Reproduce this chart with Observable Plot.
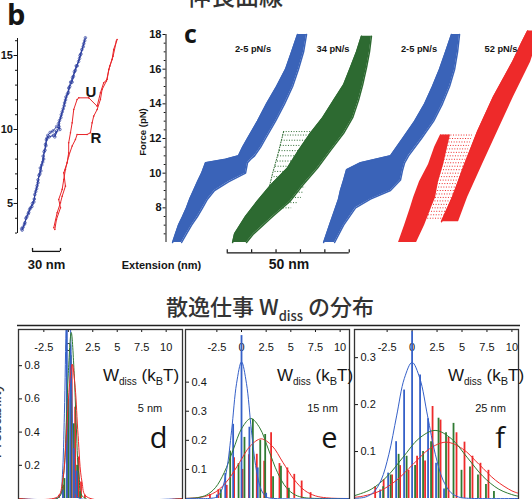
<!DOCTYPE html>
<html>
<head>
<meta charset="utf-8">
<script src="https://cdn.jsdelivr.net/npm/d3@7"></script>
<script src="https://cdn.jsdelivr.net/npm/@observablehq/plot@0.6"></script>
<style>
  body { margin: 0; background: #fff; }
  #fig { position: relative; width: 532px; height: 499px; overflow: hidden; background: #fff; }
  #fig svg { position: absolute; overflow: visible; }
</style>
</head>
<body>
<div id="fig"></div>
<script>
// ---------------- panel b: a single stretch / relax cycle (extension nm, force pN) ----------------
const bBlueStretchExt = [5.0,7.5,9.0,11.5,13.0,15.5,17.5,18.5,20.5,22.0,23.0,25.0,26.0,28.0,28.5,30.5,31.0,32.5,35.0,38.0,42.0,45.5,44.0,46.5,48.0,50.0,51.5,53.5,55.0,57.0,59.0,61.0,63.0,65.5,67.0,69.0,71.0,72.8];
const bBlueStretchF   = [3.2,3.6,4.0,4.3,4.6,4.8,5.1,5.6,6.0,6.4,6.9,7.2,7.6,8.0,8.5,8.9,9.3,9.6,9.8,9.9,10.2,10.0,10.4,10.8,11.2,11.6,12.0,12.4,12.8,13.2,13.5,13.9,14.3,14.6,15.0,15.4,15.8,16.2];
const bBlueRelaxExt = [72.0,70.5,68.0,66.5,64.0,62.0,60.0,58.5,56.0,54.5,52.0,50.5,49.0,47.0,45.0,44.5,40.0,42.0,38.5,34.0,31.5,30.0,29.5,27.5,27.0,24.5,24.0,22.0,21.0,19.5,18.0,16.0,14.0,12.0,10.0,8.0,6.0,4.5];
const bBlueRelaxF   = [16.0,15.6,15.1,14.8,14.3,14.0,13.6,13.2,12.9,12.5,12.2,11.8,11.4,11.0,10.6,10.2,9.5,9.9,9.6,9.5,9.4,9.0,8.6,8.2,7.8,7.4,7.0,6.6,6.2,5.8,5.3,5.0,4.7,4.4,4.1,3.7,3.4,3.3];
const bRedStretchExt = [38.9,42.5,46.1,47.9,51.4,49.6,53.2,54.9,54.9,56.8,58.6,60.3,63.9,65.7,76.4,85.4,88.9,92.4,96.1,97.8,101.4,103.1,106.8];
const bRedStretchF   = [3.36,4.37,5.05,5.49,6.17,7.07,7.75,8.43,9.10,9.78,10.45,11.35,12.03,12.14,12.14,11.57,12.48,13.16,13.38,14.05,14.73,15.41,16.08];
const bRedRelaxExt = [106.0,102.5,98.9,95.3,90.7,88.9,85.4,81.7,80.0,78.2,74.6,63.9,62.1,58.6,54.9,51.4,49.6,47.9,44.2,46.1,41.8,40.0];
const bRedRelaxF   = [15.97,14.95,14.28,13.27,12.70,12.03,11.35,10.9,10.45,9.78,9.66,9.66,9.32,8.88,8.20,7.30,6.62,5.95,5.27,4.71,3.92,3.24];
const bForceTicks = [5, 10, 15];
const bForceTickLabels = ["5", "10", "15"];
const bForceMinor = [3,4,6,7,8,9,11,12,13,14,16];
const bScaleBarNm = 30;

// ---------------- panel c: bundles of repeated pulls, outline of each bundle (force pN -> extension nm) ----------------
const cForceTicks = [8, 10, 12, 14, 16, 18];
const cForceTickLabels = ["8", "10", "12", "14", "16", "18"];
const cForceMinor = [6.5,7,7.5,8.5,9,9.5,10.5,11,11.5,12.5,13,13.5,14.5,15,15.5,16.5,17,17.5];
const cScaleBarNm = 50;
const cScaleBarTicks = [0, 10, 20, 30, 40, 50];
const cRateLabels = ["2-5 pN/s", "34 pN/s", "2-5 pN/s", "52 pN/s"];

const slowAF  = [6,6.5,7,7.5,8,8.5,9,9.5,10,10.6,10.8,11,11.5,12,13,14,15,16,17,18];
const slowALo = [3.7,4.9,6.1,7.8,9.4,10.7,12.3,13.9,15.6,17.2,25.4,30.7,32.4,34.4,38.5,42.2,46.3,50.0,52.5,54.9];
const slowAHi = [7.4,9.4,11.5,13.9,16.0,18.0,20.9,26.6,33.6,34.4,35.7,37.3,39.8,41.8,45.9,49.6,52.9,55.3,57.4,58.6];

const fastGF  = [6,6.5,7.5,8.4,9.3,10.3,11.3,12.3,13.2,14.2,15.1,16.1,17,17.9];
const fastGLo = [28.3,29.1,33.6,38.5,43.9,50.8,55.3,60.2,65.2,69.7,73.8,76.6,79.1,81.1];
const fastGHi = [34.0,36.9,44.7,52.0,57.0,63.1,68.4,73.8,77.5,79.9,81.6,83.2,84.4,85.2];
const fastGHopF  = [8.0,8.3,8.6,8.9,9.2,9.5,9.8,10.1,10.4,10.7,11.0,11.3,11.6,11.9,12.2,12.4];
const fastGHopLo = [40.6,42.6,43.4,43.9,44.3,45.1,45.3,45.7,45.9,46.7,46.9,47.5,48.0,48.4,48.8,49.2];
const fastGHopHi = [52.5,55.3,56.5,57.4,58.2,58.6,59.0,59.8,60.2,60.7,61.1,61.5,62.3,62.7,63.1,63.5];
const fastGEdgeF  = [8.0,9.0,10.0,11.0,12.4];
const fastGEdgeX  = [40.6,43.0,44.7,46.7,49.2];

const slowBF  = [6,7,8,8.5,9,9.6,10.2,10.6,11,12,13,14,15,16,17,18];
const slowBLo = [65.6,68.0,70.5,71.7,72.5,73.8,75.0,80.7,93.0,98.0,102.9,107.0,110.2,113.1,115.6,118.0];
const slowBHi = [70.1,73.8,78.7,84.8,93.0,97.1,98.0,98.8,100.4,105.7,110.7,114.3,117.2,119.3,120.5,121.3];

const fastRFoldF  = [6,7,8,8.6,9.5,10.5,11.5,12.2];
const fastRFoldLo = [96.3,98.8,101.2,102.5,104.9,108.6,111.1,113.5];
const fastRFoldHi = [103.7,107.0,109.8,111.5,112.7,114.8,116.4,117.6];
const fastRUnfF  = [7.2,8.6,10.5,12.4,14.4,16.4,17.5,18.2];
const fastRUnfLo = [113.9,118.4,123.4,128.7,135.2,143.0,146.7,149.2];
const fastRUnfHi = [120.9,124.6,130.7,136.9,143.4,150.4,152.9,155.3];
const fastRHopF  = [7.4,7.6,7.8,8.0,8.2,8.4,8.6,8.8,9.0,9.2,9.4,9.6,9.8,10.0,10.2,10.4,10.6,10.8,11.0,11.2,11.4,11.6,11.8,12.0,12.2];
const fastRHopLo = [104.0,104.3,104.5,104.9,105.3,105.9,106.1,106.6,107.0,107.4,107.8,108.2,108.6,109.0,109.4,109.8,110.2,110.7,111.1,111.5,111.9,112.3,112.7,113.1,113.5];
const fastRHopHi = [116.8,117.2,117.6,118.0,118.4,119.5,120.1,120.5,120.9,121.3,121.7,122.1,122.5,123.0,123.4,123.8,124.2,124.6,125.0,125.0,125.0,125.4,125.8,126.2,126.6];

// ---------------- panels d-f: dissipated work histograms (kBT) and fitted curves ----------------
const wTicks = [-2.5, 0, 2.5, 5, 7.5, 10];
const wTickLabels = ["-2.5", "0", "2.5", "5", "7.5", "10"];
const dProbTicks = [0.2, 0.4, 0.6, 0.8];
const dProbLabels = ["0.2", "0.4", "0.6", "0.8"];
const eProbTicks = [0.1, 0.2, 0.3, 0.4];
const eProbLabels = ["0.1", "0.2", "0.3", "0.4"];
const fProbTicks = [0.1, 0.2, 0.3];
const fProbLabels = ["0.1", "0.2", "0.3"];
const stepLabels = ["5 nm", "15 nm", "25 nm"];

const dBlueBarW = [-0.55,-0.15,0.2,0.55,0.85];
const dBlueBarP = [0.05,1.2,0.9,0.3,0.165];
const dGreenBarW = [-0.4,0,0.25,0.55,0.9,1.2];
const dGreenBarP = [0.12,0.6,0.86,0.45,0.2,0.04];
const dRedBarW = [-0.95,-0.5,-0.1,0.35,0.7,1.05,1.3,1.7];
const dRedBarP = [0.02,0.08,0.45,0.8,0.55,0.25,0.1,0.02];
const dBlueFitW = [-5.1,-1.2,-0.8,-0.6,-0.4,-0.2,0,0.2,0.4,0.6,0.8,1.2,11.7];
const dBlueFitP = [0,0,0.024,0.143,0.51,1.1,1.42,1.1,0.51,0.143,0.024,0,0];
const dGreenFitW = [-5.1,-1.0,-0.5,-0.2,0,0.3,0.6,0.8,1.1,1.6,11.7];
const dGreenFitP = [0,0.005,0.135,0.46,0.755,1.0,0.755,0.46,0.135,0.005,0];
const dRedFitW = [-5.1,-1.1,-0.6,-0.2,0.1,0.4,0.7,1.0,1.4,1.9,11.7];
const dRedFitP = [0,0.01,0.1,0.38,0.67,0.81,0.67,0.38,0.1,0.01,0];

const eBlueBarW = [-2.5,-1.65,-0.85,0,0.8,1.65,2.5];
const eBlueBarP = [0.012,0.086,0.255,0.56,0.245,0.105,0.018];
const eGreenBarW = [-2.1,-1.15,-0.3,0.3,1.15,1.9,2.4,3.2,4.0,4.8];
const eGreenBarP = [0.03,0.163,0.12,0.21,0.272,0.2,0.22,0.075,0.111,0.035];
const eRedBarW = [-3.2,-2.35,-1.5,-0.75,0.1,0.75,1.55,2.3,3.0,3.85,4.65,5.35,6.1,7.0];
const eRedBarP = [0.014,0.03,0.045,0.14,0.1,0.15,0.152,0.128,0.226,0.12,0.105,0.083,0.06,0.02];
const eBlueFitW = [-5.7,-3,-2.5,-2,-1.5,-1,-0.5,0,0.5,1,1.5,2,2.5,3,11];
const eBlueFitP = [0,0.001,0.006,0.03,0.099,0.235,0.396,0.47,0.396,0.235,0.099,0.03,0.006,0.001,0];
const eGreenFitW = [-5.7,-5.35,-4.45,-3.55,-2.65,-1.75,-0.85,0.05,0.95,1.85,2.75,3.65,4.55,5.45,6.35,7.25,11];
const eGreenFitP = [0,0.0006,0.003,0.0121,0.0371,0.0894,0.1668,0.2427,0.275,0.2427,0.1668,0.0894,0.0371,0.0121,0.003,0.0006,0];
const eRedFitW = [-5.7,-4.6,-3.5,-2.4,-1.3,-0.2,0.9,2.0,3.1,4.2,5.3,6.4,7.5,8.6,9.7,11];
const eRedFitP = [0.0004,0.0023,0.009,0.0277,0.0666,0.124,0.181,0.205,0.181,0.124,0.0666,0.0277,0.009,0.0023,0.0004,0];

const fBlueBarW = [-3.2,-2.4,-1.6,-0.8,0,0.8,1.6,2.4,3.2];
const fBlueBarP = [0.018,0.054,0.121,0.231,0.355,0.263,0.17,0.075,0.02];
const fGreenBarW = [-2.9,-2.15,-1.35,-0.55,0.3,1.1,1.9,2.65,3.4,4.15,4.95,5.8,6.6,7.4,8.2];
const fGreenBarP = [0.025,0.05,0.094,0.09,0.07,0.1,0.121,0.171,0.14,0.16,0.06,0.067,0.05,0.03,0.015];
const fRedBarW = [-3.7,-2.85,-2.0,-1.2,-0.35,0.5,1.3,2.05,2.85,3.65,4.45,5.25,6.05,6.85,7.65];
const fRedBarP = [0.025,0.04,0.05,0.07,0.06,0.09,0.08,0.196,0.167,0.13,0.14,0.12,0.09,0.075,0.06];
const fBlueFitW = [-5.77,-5.43,-4.65,-3.875,-3.1,-2.325,-1.55,-0.775,0,0.775,1.55,2.325,3.1,3.875,4.65,5.43,10.66];
const fBlueFitP = [0,0.0006,0.0032,0.0128,0.0392,0.0943,0.1759,0.2559,0.29,0.2559,0.1759,0.0943,0.0392,0.0128,0.0032,0.0006,0];
const fGreenFitW = [-5.77,-4.1,-2.5,-0.9,0.7,2.3,3.9,5.5,7.1,8.7,10.3,10.66];
const fGreenFitP = [0.006,0.0196,0.047,0.088,0.128,0.145,0.128,0.088,0.047,0.0196,0.0064,0.005];
const fRedFitW = [-5.77,-4.85,-3.2,-1.55,0.1,1.75,3.4,5.05,6.7,8.35,10.0,10.66];
const fRedFitP = [0.0025,0.0053,0.0162,0.039,0.0728,0.1059,0.12,0.1059,0.0728,0.039,0.0162,0.011];

// ---------------- colours and shared style ----------------
const bBlue = "#2b3d9e", bRed = "#e8262a";
const cBlue = "#3a63b8", cGreen = "#2d6a31", cRed = "#ee2a2a";
const hBlue = "#3560c8", hGreen = "#2f7a32", hRed = "#ee2b2b";
const ink = "#151515";
const baseStyle = { background: "none", overflow: "visible", fontFamily: "'Liberation Sans', Arial, sans-serif", color: ink };

const zipXY = (xs, ys, kx, ky) => xs.map((x, i) => ({ [kx]: x, [ky]: ys[i] }));
const band = (F, lo, hi) => F.map((f, i) => ({ F: f, lo: lo[i], hi: hi[i] }));
const fig = document.getElementById("fig");
function place(svg, left, top) {
  svg.style.left = left + "px";
  svg.style.top = top + "px";
  fig.appendChild(svg);
}

// ---------------- panel b ----------------
const bX0 = 0, bX1 = 115.8;
const bBarStart = 16.1, bBarF = 1.76;
const bPlot = Plot.plot({
  width: 135, height: 280,
  marginLeft: 17, marginRight: 10, marginTop: 38, marginBottom: 47,
  x: { domain: [bX0, bX1], axis: null },
  y: { domain: [2.97, 16.15], axis: null },
  style: baseStyle,
  marks: [
    Plot.ruleX([bX0], { stroke: ink }),
    Plot.axisY({ ticks: bForceMinor, tickSize: 2, fill: "none", stroke: ink }),
    Plot.axisY({ ticks: bForceTicks, tickSize: 3.5, tickPadding: 1, label: null, stroke: ink, fill: ink,
      tickFormat: d => bForceTickLabels[bForceTicks.indexOf(d)], fontWeight: "bold", fontSize: 11 }),
    Plot.line(zipXY(bBlueStretchExt, bBlueStretchF, "ext", "F"), { x: "ext", y: "F", stroke: bBlue, strokeWidth: 1 }),
    Plot.line(zipXY(bBlueRelaxExt, bBlueRelaxF, "ext", "F"), { x: "ext", y: "F", stroke: bBlue, strokeWidth: 1 }),
    Plot.dot(zipXY(bBlueStretchExt, bBlueStretchF, "ext", "F"), { x: "ext", y: "F", r: 1.3, stroke: bBlue, strokeWidth: 0.7 }),
    Plot.dot(zipXY(bBlueRelaxExt, bBlueRelaxF, "ext", "F"), { x: "ext", y: "F", r: 1.3, stroke: bBlue, strokeWidth: 0.7 }),
    Plot.line(zipXY(bRedStretchExt, bRedStretchF, "ext", "F"), { x: "ext", y: "F", stroke: bRed, strokeWidth: 1 }),
    Plot.line(zipXY(bRedRelaxExt, bRedRelaxF, "ext", "F"), { x: "ext", y: "F", stroke: bRed, strokeWidth: 1 }),
    Plot.dot(zipXY(bRedStretchExt, bRedStretchF, "ext", "F"), { x: "ext", y: "F", r: 0.8, fill: bRed }),
    Plot.dot(zipXY(bRedRelaxExt, bRedRelaxF, "ext", "F"), { x: "ext", y: "F", r: 0.8, fill: bRed }),
    // 30 nm scale bar
    Plot.ruleY([bBarF], { x1: bBarStart, x2: bBarStart + bScaleBarNm, stroke: ink, strokeWidth: 1.3 }),
    Plot.ruleX([bBarStart, bBarStart + bScaleBarNm], { y1: bBarF, y2: bBarF + 0.2, stroke: ink, strokeWidth: 1.3 })
  ]
});
place(bPlot, 0, 0);

// ---------------- panel c ----------------
const cX0 = 1.0, cX1 = 151.2;
const cBarStart = 26.1, cBarF = 5.4;
const dotted = { strokeDasharray: "1 1.6", strokeWidth: 1 };
const cPlot = Plot.plot({
  width: 412, height: 280,
  marginLeft: 45.5, marginRight: 0, marginTop: 34, marginBottom: 38,
  x: { domain: [cX0, cX1], axis: null },
  y: { domain: [6, 18], axis: null },
  style: baseStyle,
  marks: [
    Plot.ruleX([cX0], { stroke: ink }),
    Plot.axisY({ ticks: cForceMinor, tickSize: 1.8, fill: "none", stroke: ink }),
    Plot.axisY({ ticks: cForceTicks, tickSize: 3, tickPadding: 1.5, label: null, stroke: ink, fill: ink,
      tickFormat: d => cForceTickLabels[cForceTicks.indexOf(d)], fontWeight: "bold", fontSize: 11 }),
    // slow pulls (first construct)
    Plot.areaX(band(slowAF, slowALo, slowAHi), { y: "F", x1: "lo", x2: "hi", fill: cBlue }),
    Plot.line(band(slowAF, slowALo, slowAHi), { y: "F", x: "lo", stroke: cBlue, strokeWidth: 1.5 }),
    Plot.line(band(slowAF, slowALo, slowAHi), { y: "F", x: "hi", stroke: cBlue, strokeWidth: 1.5 }),
    // fast pulls, 34 pN/s
    Plot.ruleY(band(fastGHopF, fastGHopLo, fastGHopHi), { y: "F", x1: "lo", x2: "hi", stroke: cGreen, ...dotted }),
    Plot.line(zipXY(fastGEdgeX, fastGEdgeF, "x", "F"), { x: "x", y: "F", stroke: cGreen, ...dotted }),
    Plot.areaX(band(fastGF, fastGLo, fastGHi), { y: "F", x1: "lo", x2: "hi", fill: cGreen }),
    Plot.line(band(fastGF, fastGLo, fastGHi), { y: "F", x: "lo", stroke: cGreen, strokeWidth: 1.5 }),
    Plot.line(band(fastGF, fastGLo, fastGHi), { y: "F", x: "hi", stroke: cGreen, strokeWidth: 1.5 }),
    // slow pulls (second construct)
    Plot.areaX(band(slowBF, slowBLo, slowBHi), { y: "F", x1: "lo", x2: "hi", fill: cBlue }),
    Plot.line(band(slowBF, slowBLo, slowBHi), { y: "F", x: "lo", stroke: cBlue, strokeWidth: 1.5 }),
    Plot.line(band(slowBF, slowBLo, slowBHi), { y: "F", x: "hi", stroke: cBlue, strokeWidth: 1.5 }),
    // fast pulls, 52 pN/s: folded branch, hops, unfolded branch
    Plot.ruleY(band(fastRHopF, fastRHopLo, fastRHopHi), { y: "F", x1: "lo", x2: "hi", stroke: cRed, ...dotted }),
    Plot.areaX(band(fastRFoldF, fastRFoldLo, fastRFoldHi), { y: "F", x1: "lo", x2: "hi", fill: cRed }),
    Plot.areaX(band(fastRUnfF, fastRUnfLo, fastRUnfHi), { y: "F", x1: "lo", x2: "hi", fill: cRed }),
    Plot.line(band(fastRUnfF, fastRUnfLo, fastRUnfHi), { y: "F", x: "lo", stroke: cRed, strokeWidth: 1.5 }),
    // 50 nm scale bar
    Plot.ruleY([cBarF], { x1: cBarStart, x2: cBarStart + cScaleBarNm, stroke: ink, strokeWidth: 1.2 }),
    Plot.ruleX(cScaleBarTicks, { x: d => cBarStart + d, y1: cBarF, y2: cBarF + 0.18, stroke: ink, strokeWidth: 1.2 })
  ]
});
place(cPlot, 120, 0);

// ---------------- panels d, e, f ----------------
function workPanel({ width, xDom, yDom, yTicks, yLabels, bars, fits }) {
  const height = 171;
  const marks = [
    Plot.ruleX(wTicks, { x: d => d, insetBottom: height - 3, stroke: ink }),
    Plot.text(wTicks, { x: d => d, text: (d, i) => wTickLabels[i], frameAnchor: "top", dy: 14, fontSize: 11, fill: ink }),
    Plot.ruleY(yTicks, { y: d => d, insetRight: width - 4, stroke: ink }),
    Plot.text(yTicks, { y: d => d, text: (d, i) => yLabels[i], frameAnchor: "left", dx: 6, textAnchor: "start", fontSize: 11, fill: ink })
  ];
  for (const b of bars)
    marks.push(Plot.ruleX(zipXY(b.w, b.p, "w", "p"), { x: "w", y1: 0, y2: "p", stroke: b.color, strokeWidth: 1.8, clip: true }));
  for (const f of fits)
    marks.push(Plot.line(zipXY(f.w, f.p, "w", "p"), { x: "w", y: "p", stroke: f.color, strokeWidth: 1, curve: "catmull-rom", clip: true }));
  marks.push(Plot.frame({ stroke: "#333", strokeWidth: 1.3 }));
  return Plot.plot({
    width, height, margin: 0,
    x: { domain: xDom, axis: null },
    y: { domain: yDom, axis: null },
    style: baseStyle,
    marks
  });
}

place(workPanel({
  width: 164, xDom: [-5.09, 11.67], yDom: [-0.012, 1.018], yTicks: dProbTicks, yLabels: dProbLabels,
  bars: [
    { w: dRedBarW, p: dRedBarP, color: hRed },
    { w: dGreenBarW, p: dGreenBarP, color: hGreen },
    { w: dBlueBarW, p: dBlueBarP, color: hBlue }
  ],
  fits: [
    { w: dBlueFitW, p: dBlueFitP, color: hBlue },
    { w: dGreenFitW, p: dGreenFitP, color: hGreen },
    { w: dRedFitW, p: dRedFitP, color: hRed }
  ]
}), 18, 329);

place(workPanel({
  width: 164, xDom: [-5.68, 10.95], yDom: [-0.0069, 0.581], yTicks: eProbTicks, yLabels: eProbLabels,
  bars: [
    { w: eRedBarW, p: eRedBarP, color: hRed },
    { w: eGreenBarW, p: eGreenBarP, color: hGreen },
    { w: eBlueBarW, p: eBlueBarP, color: hBlue }
  ],
  fits: [
    { w: eRedFitW, p: eRedFitP, color: hRed },
    { w: eGreenFitW, p: eGreenFitP, color: hGreen },
    { w: eBlueFitW, p: eBlueFitP, color: hBlue }
  ]
}), 185, 329);

place(workPanel({
  width: 164, xDom: [-5.77, 10.66], yDom: [-0.0043, 0.36], yTicks: fProbTicks, yLabels: fProbLabels,
  bars: [
    { w: fRedBarW, p: fRedBarP, color: hRed },
    { w: fGreenBarW, p: fGreenBarP, color: hGreen },
    { w: fBlueBarW, p: fBlueBarP, color: hBlue }
  ],
  fits: [
    { w: fRedFitW, p: fRedFitP, color: hRed },
    { w: fGreenFitW, p: fGreenFitP, color: hGreen },
    { w: fBlueFitW, p: fBlueFitP, color: hBlue }
  ]
}), 354, 329);

// ---------------- titles, panel letters and annotations ----------------
const ov = d3.create("svg").attr("width", 532).attr("height", 499)
  .style("left", "0px").style("top", "0px").style("pointer-events", "none");
const sans = "'Liberation Sans', Arial, sans-serif";
const cjk = "'Noto Sans CJK JP', 'Noto Sans CJK SC', sans-serif";
const letterFont = "'Open Sans', 'Noto Sans', sans-serif";
function label(x, y, str, { size = 11, weight = "normal", family = sans, anchor = "start", fill = ink, rotate = 0 } = {}) {
  return ov.append("text")
    .attr("transform", `translate(${x},${y}) rotate(${rotate})`)
    .attr("font-family", family).attr("font-size", size).attr("font-weight", weight)
    .attr("text-anchor", anchor).attr("fill", fill).text(str);
}

label(235, 5, "伸長曲線", { size: 24, family: cjk, anchor: "middle", fill: "#333", weight: 500 });
label(7, 25, "b", { size: 29, weight: "bold", family: letterFont });
label(184, 43, "c", { size: 25, weight: "bold", family: letterFont });
label(91, 96.5, "U", { size: 15, weight: "bold", anchor: "middle" });
label(96, 142.5, "R", { size: 15, weight: "bold", anchor: "middle" });
label(46.5, 268.5, "30 nm", { size: 13, weight: "bold", anchor: "middle" });
label(161.5, 268.5, "Extension (nm)", { size: 11, weight: "bold", anchor: "middle" });
label(289, 268.5, "50 nm", { size: 14, weight: "bold", anchor: "middle" });
label(146, 132, "Force (pN)", { size: 9.5, weight: "bold", anchor: "middle", rotate: -90 });
[253, 333, 419, 501].forEach((x, i) => label(x, 51.5, cRateLabels[i], { size: 9.3, weight: "bold", anchor: "middle" }));

// bottom title with subscript
const t2 = ov.append("text").attr("x", 270).attr("y", 315).attr("text-anchor", "middle")
  .attr("font-family", cjk).attr("font-size", 22).attr("fill", "#333").attr("font-weight", 500);
t2.append("tspan").text("散逸仕事 W");
t2.append("tspan").attr("font-size", 13).attr("dy", 6).text("diss");
t2.append("tspan").attr("dy", -6).text(" の分布");
ov.append("line").attr("x1", 17).attr("x2", 520).attr("y1", 325.5).attr("y2", 325.5)
  .attr("stroke", "#222").attr("stroke-width", 1.5);

label(1, 421, "Probability", { size: 16, anchor: "middle", rotate: -90, fill: "#333" });

// W_diss (k_B T) axis titles, step sizes and panel letters
[103, 277, 448].forEach((x) => {
  const t = ov.append("text").attr("x", x).attr("y", 381).attr("font-family", sans).attr("font-size", 17).attr("fill", ink);
  t.append("tspan").text("W");
  t.append("tspan").attr("font-size", 10).attr("dy", 4).text("diss");
  t.append("tspan").attr("dy", -4).text(" (k");
  t.append("tspan").attr("font-size", 11).attr("dy", 4).text("B");
  t.append("tspan").attr("dy", -4).text("T)");
});
[150, 322.5, 490.5].forEach((x, i) => label(x, 412, stepLabels[i], { size: 11, anchor: "middle" }));
[["d", 158.5], ["e", 329.5], ["f", 500]].forEach(([s, x]) => label(x, 448, s, { size: 29, anchor: "middle", family: letterFont }));

fig.appendChild(ov.node());
</script>
</body>
</html>
